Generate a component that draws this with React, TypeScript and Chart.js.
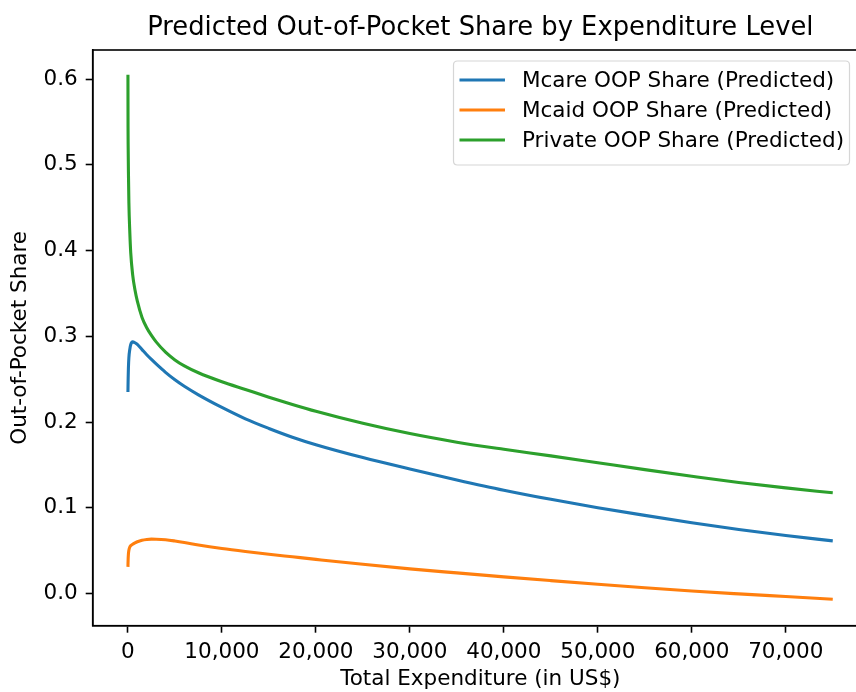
import React, { useEffect, useRef } from "react";
import { Chart, registerables } from "chart.js";

Chart.register(...registerables);

// ---- Data ----
const EXPENDITURE = [
  0, 10, 25, 50, 100, 200, 300, 500, 750, 1000, 1500, 2000, 2500, 3000, 4000, 5000, 6000, 7500,
  10000, 12500, 15000, 17500, 20000, 25000, 30000, 35000, 40000, 45000, 50000, 55000, 60000,
  65000, 70000, 75000,
];
const MCARE_SHARE = [
  0.235, 0.243, 0.252, 0.263, 0.275, 0.285, 0.2905, 0.2935, 0.2925, 0.2905, 0.2845, 0.2785,
  0.273, 0.2678, 0.258, 0.2493, 0.2417, 0.2317, 0.217, 0.2037, 0.1925, 0.1823, 0.1735, 0.1585,
  0.1452, 0.1325, 0.1205, 0.1098, 0.1001, 0.0911, 0.0825, 0.0746, 0.0676, 0.0614,
];
const MCAID_SHARE = [
  0.031, 0.036, 0.041, 0.046, 0.0505, 0.0542, 0.0558, 0.0575, 0.0591, 0.0604, 0.0621, 0.063,
  0.0634, 0.0633, 0.0626, 0.0612, 0.0595, 0.0566, 0.0525, 0.049, 0.0458, 0.0428, 0.0398, 0.034,
  0.0287, 0.024, 0.0194, 0.015, 0.0107, 0.0066, 0.0028, -0.0005, -0.0036, -0.0067,
];
const PRIVATE_SHARE = [
  0.605, 0.545, 0.52, 0.493, 0.456, 0.421, 0.397, 0.372, 0.354, 0.341, 0.322, 0.31, 0.301,
  0.2935, 0.2815, 0.2725, 0.2655, 0.2575, 0.247, 0.238, 0.229, 0.2205, 0.2125, 0.1985, 0.1865,
  0.1765, 0.1682, 0.1605, 0.1525, 0.1445, 0.1368, 0.1295, 0.1232, 0.1174,
];
const SERIES_LABELS = [
  "Mcare OOP Share (Predicted)",
  "Mcaid OOP Share (Predicted)",
  "Private OOP Share (Predicted)",
];
const X_TICKS = [0, 10000, 20000, 30000, 40000, 50000, 60000, 70000];
const Y_TICKS = [0.0, 0.1, 0.2, 0.3, 0.4, 0.5, 0.6];
const X_MIN = -3750;
const X_MAX = 78750;
const Y_MIN = -0.0376;
const Y_MAX = 0.634;

const COLORS = ["#1f77b4", "#ff7f0e", "#2ca02c"];
const FONT = "'DejaVu Sans', sans-serif";
const FS = 21.5;

const W = 880;
const H = 692;

const framePlugin = {
  id: "frameAndLegend",
  afterDraw(chart: any) {
    const { ctx, chartArea } = chart;
    const { left, top, right, bottom } = chartArea;
    ctx.save();
    ctx.strokeStyle = "#000";
    ctx.lineWidth = 1.6;
    ctx.strokeRect(left, top, right - left, bottom - top);

    const bx = 453.5, by = 61, bw = 396, bh = 104, r = 4;
    ctx.beginPath();
    ctx.moveTo(bx + r, by);
    ctx.lineTo(bx + bw - r, by);
    ctx.quadraticCurveTo(bx + bw, by, bx + bw, by + r);
    ctx.lineTo(bx + bw, by + bh - r);
    ctx.quadraticCurveTo(bx + bw, by + bh, bx + bw - r, by + bh);
    ctx.lineTo(bx + r, by + bh);
    ctx.quadraticCurveTo(bx, by + bh, bx, by + bh - r);
    ctx.lineTo(bx, by + r);
    ctx.quadraticCurveTo(bx, by, bx + r, by);
    ctx.closePath();
    ctx.fillStyle = "rgba(255,255,255,0.8)";
    ctx.fill();
    ctx.strokeStyle = "#d6d6d6";
    ctx.lineWidth = 1.2;
    ctx.stroke();

    ctx.font = `${FS}px ${FONT}`;
    ctx.textBaseline = "middle";
    ctx.textAlign = "left";
    chart.data.datasets.forEach((ds: any, i: number) => {
      const y = 80 + i * 30;
      ctx.strokeStyle = ds.borderColor;
      ctx.lineWidth = 3.1;
      ctx.lineCap = "butt";
      ctx.beginPath();
      ctx.moveTo(459.5, y);
      ctx.lineTo(505, y);
      ctx.stroke();
      ctx.fillStyle = "#000";
      ctx.fillText(ds.label, 522, y + 1);
    });
    ctx.restore();
  },
};

export default function App() {
  const canvasRef = useRef<HTMLCanvasElement | null>(null);

  useEffect(() => {
    const canvas = canvasRef.current;
    if (!canvas) return;
    const series = [MCARE_SHARE, MCAID_SHARE, PRIVATE_SHARE];
    const chart = new Chart(canvas, {
      type: "line",
      data: {
        datasets: series.map((vals, i) => ({
          label: SERIES_LABELS[i],
          data: EXPENDITURE.map((x, j) => ({ x, y: vals[j] })),
          borderColor: COLORS[i],
          backgroundColor: COLORS[i],
          borderWidth: 3.1,
          pointRadius: 0,
          fill: false,
          cubicInterpolationMode: "monotone" as const,
          order: 3 - i,
        })),
      },
      options: {
        animation: false,
        responsive: false,
        devicePixelRatio: 1,
        layout: { padding: { left: 0, right: 12, top: 0, bottom: 0 } },
        plugins: {
          legend: { display: false },
          tooltip: { enabled: false },
          title: {
            display: true,
            fullSize: false,
            text: "Predicted Out-of-Pocket Share by Expenditure Level",
            color: "#000",
            font: { family: FONT, size: 25.8, weight: "normal", lineHeight: 1.2 },
            padding: { top: 12.8, bottom: 6.24 },
          },
        },
        scales: {
          x: {
            type: "linear",
            min: X_MIN,
            max: X_MAX,
            afterFit: (scale: any) => {
              scale.height = 66.3;
              scale.paddingLeft = 0;
              scale.paddingRight = 0;
            },
            afterBuildTicks: (scale: any) => {
              scale.ticks = X_TICKS.map((value) => ({ value }));
            },
            ticks: {
              color: "#000",
              padding: 6.4,
              maxRotation: 0,
              autoSkip: false,
              font: { family: FONT, size: FS, lineHeight: 1.2 },
              callback: (v: any) => Math.round(Number(v)).toLocaleString("en-US"),
            },
            grid: {
              drawOnChartArea: false,
              drawTicks: true,
              tickLength: 7,
              tickColor: "#000",
              tickWidth: 1.6,
            },
            border: { display: true, color: "#000", width: 1.6 },
            title: {
              display: true,
              text: "Total Expenditure (in US$)",
              color: "#000",
              font: { family: FONT, size: FS, lineHeight: 1.2 },
              padding: { top: 0, bottom: 0 },
            },
          },
          y: {
            type: "linear",
            min: Y_MIN,
            max: Y_MAX,
            afterFit: (scale: any) => {
              scale.width = 92.7;
              scale.paddingTop = 0;
              scale.paddingBottom = 0;
            },
            afterBuildTicks: (scale: any) => {
              scale.ticks = Y_TICKS.map((value) => ({ value }));
            },
            ticks: {
              color: "#000",
              padding: 8,
              autoSkip: false,
              font: { family: FONT, size: FS, lineHeight: 1.2 },
              callback: (v: any) => Number(v).toFixed(1),
            },
            grid: {
              drawOnChartArea: false,
              drawTicks: true,
              tickLength: 7,
              tickColor: "#000",
              tickWidth: 1.6,
            },
            border: { display: true, color: "#000", width: 1.6 },
            title: {
              display: true,
              text: "Out-of-Pocket Share",
              color: "#000",
              font: { family: FONT, size: FS, lineHeight: 1.2 },
              padding: { top: 8, bottom: 0 },
            },
          },
        },
      },
      plugins: [framePlugin],
    });
    return () => chart.destroy();
  }, []);

  return (
    <div style={{ position: "fixed", left: 0, top: 0, width: "100vw", height: "100vh", overflow: "hidden", background: "#fff" }}>
      <canvas ref={canvasRef} width={W} height={H} style={{ width: W, height: H, display: "block" }} />
    </div>
  );
}
